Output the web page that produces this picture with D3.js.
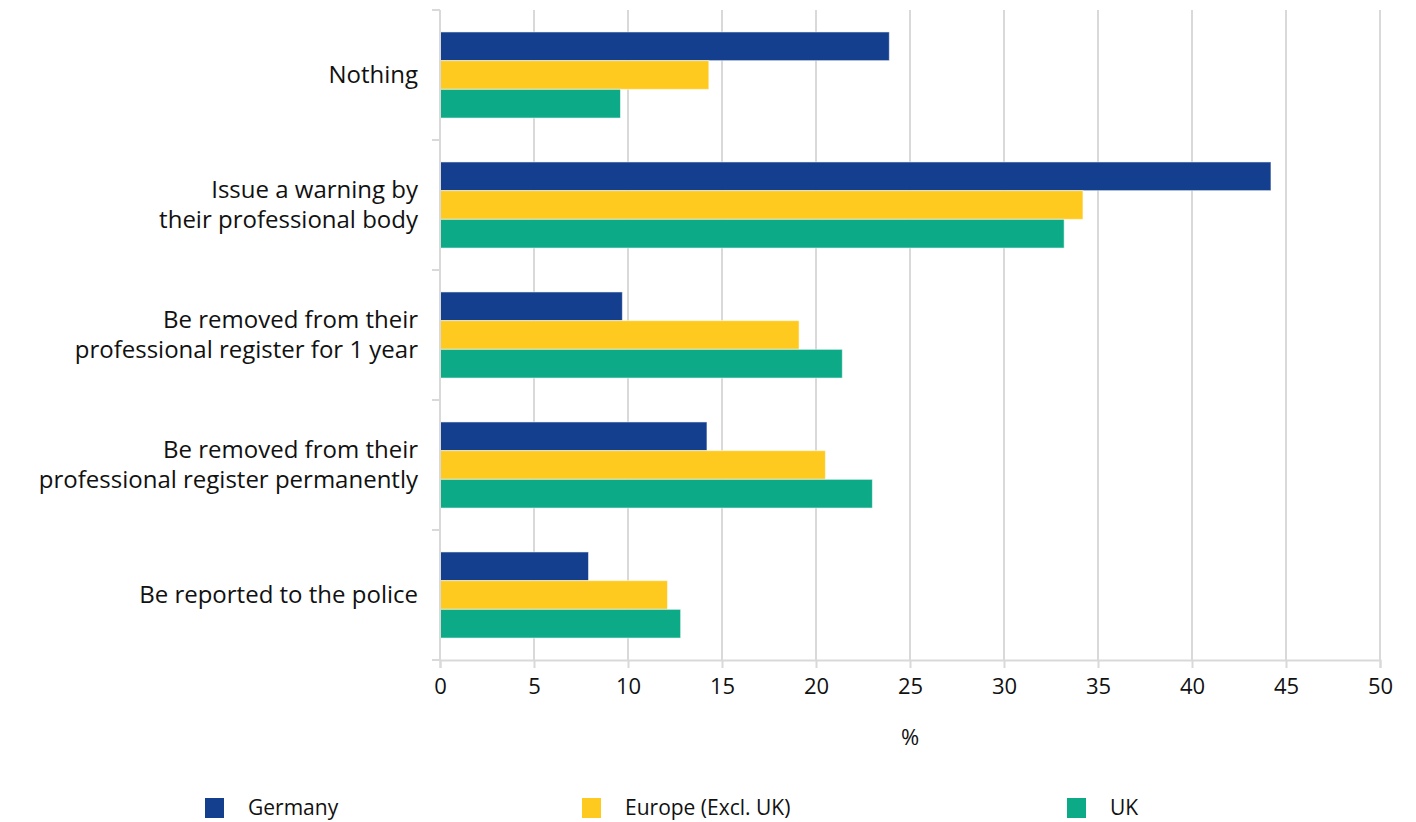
<!DOCTYPE html>
<html>
<head>
<meta charset="utf-8">
<script src="https://cdn.jsdelivr.net/npm/d3@7"></script>
<style>
  html, body { margin: 0; padding: 0; background: #fff; }
  svg { display: block; font-family: "Open Sans", "Lato", sans-serif; }
</style>
</head>
<body>
<svg id="chart" width="1416" height="822"></svg>
<script>
// Survey responses: what should happen to a professional who offends (%)
const categories = [
  ["Nothing"],
  ["Issue a warning by", "their professional body"],
  ["Be removed from their", "professional register for 1 year"],
  ["Be removed from their", "professional register permanently"],
  ["Be reported to the police"]
];
const seriesNames = ["Germany", "Europe (Excl. UK)", "UK"];
const seriesColors = ["#143f8e", "#ffca1f", "#0daa88"];
const germany = [23.9, 44.2, 9.7, 14.2, 7.9];
const europe  = [14.3, 34.2, 19.1, 20.5, 12.1];
const uk      = [9.6, 33.2, 21.4, 23.0, 12.8];
const xTicks  = [0, 5, 10, 15, 20, 25, 30, 35, 40, 45, 50];
const xTitle  = "%";

const values = [germany, europe, uk];
const rows = categories.map((c, i) => ({
  key: c.join(" "),
  lines: c,
  vals: values.map(v => v[i])
}));

const svg = d3.select("#chart");
const margin = { left: 440, right: 36, top: 10, bottom: 162 };
const W = 1416, H = 822;

const x = d3.scaleLinear().domain([0, 50]).range([margin.left, W - margin.right]);
const y = d3.scaleBand().domain(rows.map(r => r.key)).range([margin.top, H - margin.bottom]).paddingInner(0).paddingOuter(0);
const inner = d3.scaleBand().domain(d3.range(seriesNames.length)).range([0, y.bandwidth()]).paddingInner(0).paddingOuter(0.765);

const gridColor = "#d9d9d9";

// vertical gridlines
svg.append("g")
  .selectAll("line")
  .data(xTicks.slice(1))
  .join("line")
  .attr("x1", d => x(d)).attr("x2", d => x(d))
  .attr("y1", margin.top).attr("y2", H - margin.bottom)
  .attr("stroke", gridColor).attr("stroke-width", 2);

// bars
const groups = svg.append("g").selectAll("g")
  .data(rows)
  .join("g")
  .attr("transform", d => `translate(0,${y(d.key)})`);

groups.selectAll("rect")
  .data(d => d.vals.map((v, i) => ({ v, i })))
  .join("rect")
  .attr("x", x(0))
  .attr("y", d => inner(d.i))
  .attr("width", d => x(d.v) - x(0))
  .attr("height", inner.bandwidth())
  .attr("fill", d => seriesColors[d.i])
  .attr("stroke", "rgba(255,255,255,0.55)")
  .attr("stroke-width", 1);

// y axis: line plus category boundary ticks
const yAxisG = svg.append("g");
yAxisG.append("line")
  .attr("x1", x(0)).attr("x2", x(0))
  .attr("y1", margin.top).attr("y2", H - margin.bottom)
  .attr("stroke", gridColor).attr("stroke-width", 2);
const bounds = rows.map(r => y(r.key)).concat([H - margin.bottom]);
yAxisG.selectAll("line.tk")
  .data(bounds)
  .join("line")
  .attr("class", "tk")
  .attr("x1", x(0) - 8).attr("x2", x(0))
  .attr("y1", d => d).attr("y2", d => d)
  .attr("stroke", gridColor).attr("stroke-width", 2);

// category labels
const labels = svg.append("g").selectAll("text")
  .data(rows)
  .join("text")
  .attr("text-anchor", "end")
  .attr("font-size", 24)
  .attr("fill", "#111")
  .attr("transform", d => `translate(418,${y(d.key) + y.bandwidth() / 2})`);
labels.each(function(d) {
  const n = d.lines.length;
  const lh = 30;
  d3.select(this).selectAll("tspan")
    .data(d.lines)
    .join("tspan")
    .attr("x", 0)
    .attr("y", (l, j) => (j - (n - 1) / 2) * lh)
    .attr("dy", "0.35em")
    .text(l => l);
});

// x axis
const xAxis = d3.axisBottom(x).tickValues(xTicks).tickSize(8).tickPadding(10).tickFormat(d3.format("d"));
const xg = svg.append("g")
  .attr("transform", `translate(0,${H - margin.bottom})`)
  .call(xAxis);
xg.select(".domain").attr("stroke", gridColor).attr("stroke-width", 2);
xg.selectAll(".tick line").attr("stroke", gridColor).attr("stroke-width", 2);
xg.selectAll(".tick text")
  .attr("font-size", 22)
  .attr("font-family", "'Open Sans', Lato, sans-serif")
  .attr("fill", "#111");

svg.append("text")
  .attr("x", (x(0) + x(50)) / 2)
  .attr("y", 745)
  .attr("text-anchor", "middle")
  .attr("font-size", 22)
  .attr("fill", "#111")
  .text(xTitle);

// legend
const legendX = [205, 582, 1067];
const legend = svg.append("g").selectAll("g")
  .data(seriesNames)
  .join("g")
  .attr("transform", (d, i) => `translate(${legendX[i]},798)`);
legend.append("rect")
  .attr("width", 19).attr("height", 20)
  .attr("fill", (d, i) => seriesColors[i]);
legend.append("text")
  .attr("x", 43)
  .attr("y", 10)
  .attr("dy", "0.35em")
  .attr("font-size", 21)
  .attr("fill", "#111")
  .text(d => d);
</script>
</body>
</html>
